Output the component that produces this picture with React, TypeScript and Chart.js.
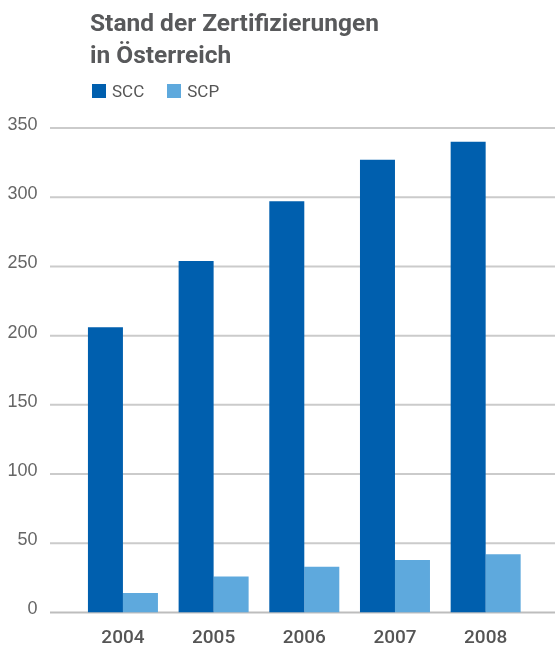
import React, { useEffect, useRef } from "react";
import { Chart, registerables } from "chart.js";

Chart.register(...registerables);

const titleLines = ["Stand der Zertifizierungen", "in Österreich"];
const categories = ["2004", "2005", "2006", "2007", "2008"];
const seriesNames = ["SCC", "SCP"];
const sccValues = [206, 254, 297, 327, 340];
const scpValues = [14, 26, 33, 38, 42];
const seriesColors = ["#005FAE", "#5EA9DD"];
const yMin = 0;
const yMax = 350;
const yStep = 50;

const gridPlugin = {
  id: "extendedGrid",
  beforeDatasetsDraw(chart: any) {
    const { ctx } = chart;
    const y = chart.scales.y;
    ctx.save();
    y.ticks.forEach((t: any) => {
      const py = y.getPixelForValue(t.value);
      ctx.beginPath();
      ctx.lineWidth = 2;
      ctx.strokeStyle = t.value === 0 ? "#bdbdbd" : "#cbcbcb";
      ctx.moveTo(50, py);
      ctx.lineTo(555, py);
      ctx.stroke();
    });
    ctx.restore();
  },
};

function BarChart() {
  const ref = useRef<HTMLCanvasElement | null>(null);
  useEffect(() => {
    if (!ref.current) return;
    const chart = new Chart(ref.current, {
      type: "bar",
      data: {
        labels: categories,
        datasets: [
          { label: seriesNames[0], data: sccValues, backgroundColor: seriesColors[0], borderWidth: 0 },
          { label: seriesNames[1], data: scpValues, backgroundColor: seriesColors[1], borderWidth: 0 },
        ],
      },
      options: {
        animation: false,
        responsive: false,
        layout: { padding: { top: 128, left: 7, right: 24, bottom: 0 } },
        plugins: { legend: { display: false }, title: { display: false }, tooltip: { enabled: false } },
        datasets: { bar: { barPercentage: 1, categoryPercentage: 0.772 } },
        scales: {
          x: {
            grid: { display: false, drawTicks: false },
            border: { display: false },
            ticks: {
              padding: 14.5,
              color: "#555555",
              font: { family: "Roboto", size: 19, weight: "500" },
            },
            afterFit: (s: any) => {
              s.height = 32.5;
            },
          },
          y: {
            min: yMin,
            max: yMax,
            grid: { display: false, drawTicks: false },
            border: { display: false },
            ticks: {
              stepSize: yStep,
              padding: 40,
              labelOffset: -3,
              color: "#666666",
              font: { family: "Liberation Sans", size: 18 },
            },
            afterFit: (s: any) => {
              s.width = 70.6;
              s.paddingTop = 0;
              s.paddingBottom = 0;
            },
          },
        },
      },
      plugins: [gridPlugin],
    });
    return () => chart.destroy();
  }, []);
  return <canvas ref={ref} width={555} height={645} style={{ display: "block", width: 555, height: 645 }} />;
}

export default function App() {
  useEffect(() => {
    document.body.style.margin = "0";
    document.body.style.overflow = "hidden";
  }, []);
  return (
    <div style={{ position: "absolute", left: 0, top: 0, width: 555, height: 645, background: "#fff" }}>
      <div style={{ position: "absolute", left: 0, top: 0, width: 555, height: 645 }}>
        <BarChart />
      </div>
      <div
        style={{
          position: "absolute",
          left: 90,
          top: 6.6,
          fontFamily: "Roboto",
          fontWeight: 700,
          fontSize: 24.5,
          lineHeight: "32px",
          color: "#58595B",
          whiteSpace: "nowrap",
        }}
      >
        {titleLines.map((l) => (
          <div key={l}>{l}</div>
        ))}
      </div>
      <div
        style={{
          position: "absolute",
          left: 92,
          top: 82.7,
          fontFamily: "Roboto",
          fontSize: 17,
          lineHeight: "17px",
          color: "#555555",
          display: "flex",
          whiteSpace: "nowrap",
        }}
      >
        {seriesNames.map((n, i) => (
          <div key={n} style={{ display: "flex", alignItems: "center", marginRight: 23 }}>
            <span
              style={{ display: "inline-block", width: 14, height: 14, background: seriesColors[i], marginRight: 6 }}
            />
            <span>{n}</span>
          </div>
        ))}
      </div>
    </div>
  );
}
